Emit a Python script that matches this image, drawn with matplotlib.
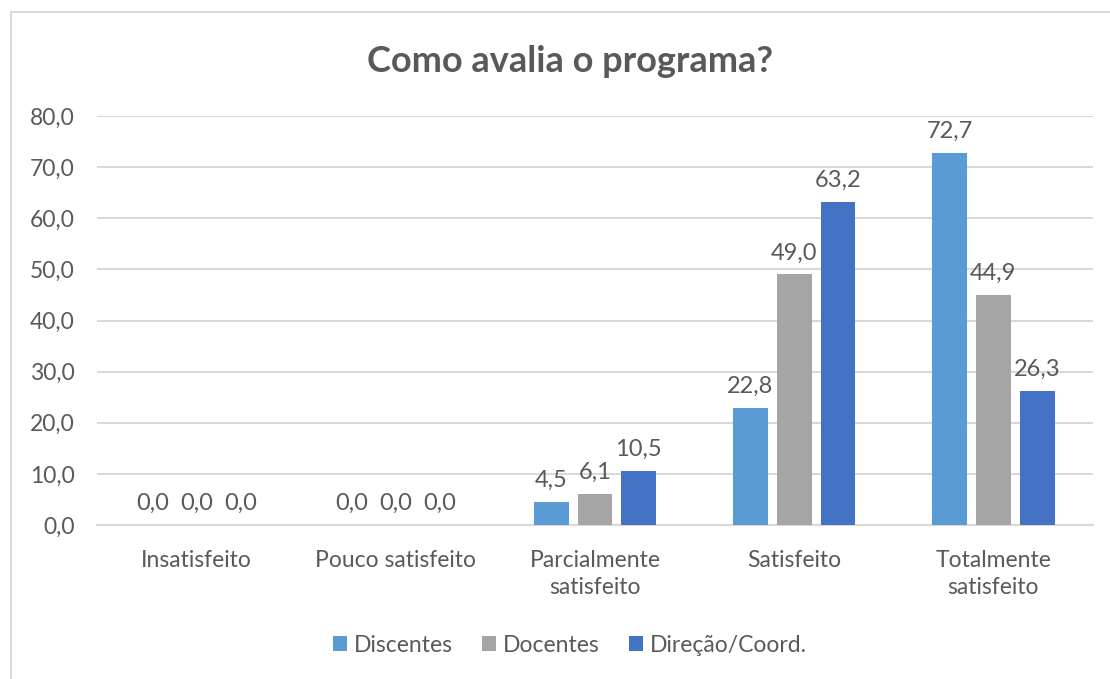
import matplotlib
matplotlib.use("Agg")
import matplotlib.pyplot as plt
import numpy as np
from matplotlib.patches import Rectangle

categories = ["Insatisfeito", "Pouco satisfeito", "Parcialmente\nsatisfeito", "Satisfeito", "Totalmente\nsatisfeito"]
series_names = ["Discentes", "Docentes", "Direção/Coord."]
discentes = [0.0, 0.0, 4.5, 22.8, 72.7]
docentes = [0.0, 0.0, 6.1, 49.0, 44.9]
direcao = [0.0, 0.0, 10.5, 63.2, 26.3]
colors = ["#5B9BD5", "#A5A5A5", "#4472C4"]
yticks = [0, 10, 20, 30, 40, 50, 60, 70, 80]

plt.rcParams['font.family'] = ['Lato', 'DejaVu Sans']
txt = "#595959"

fig = plt.figure(figsize=(11.1, 6.79), dpi=100)
fig.patches.append(Rectangle((11/1110, -0.1), 1.2, 1 - 12/679 + 0.1, transform=fig.transFigure,
                             fill=False, edgecolor="#D9D9D9", linewidth=1.5))
ax = fig.add_axes([97/1110, 1 - 525/679, (1093 - 97)/1110, (525 - 116)/679])

x = np.arange(len(categories))
offsets = [-0.22, 0.0, 0.22]
for vals, name, col, off in zip([discentes, docentes, direcao], series_names, colors, offsets):
    ax.bar(x + off, vals, width=0.175, color=col, label=name, zorder=3)
    for xi, v in zip(x + off, vals):
        ax.annotate(f"{v:.1f}".replace(".", ","), (xi, v), xytext=(0, 8), textcoords="offset points",
                    ha="center", va="bottom", fontsize=17, color=txt)

ax.set_xlim(-0.5, len(categories) - 0.5)
ax.set_ylim(0, 80)
ax.set_yticks(yticks)
ax.set_yticklabels([f"{t:.1f}".replace(".", ",") for t in yticks], fontsize=16.5, color=txt)
ax.set_xticks(x)
ax.set_xticklabels(categories, fontsize=16.5, color=txt, linespacing=1.35)
ax.tick_params(axis="both", length=0)
ax.tick_params(axis="y", pad=16)
ax.tick_params(axis="x", pad=18)
ax.grid(axis="y", color="#D9D9D9", linewidth=1.5, zorder=0)
for s in ["top", "right", "left"]:
    ax.spines[s].set_visible(False)
ax.spines["bottom"].set_color("#D9D9D9")
ax.spines["bottom"].set_linewidth(1.5)

fig.text(570/1110, 1 - 62/679, "Como avalia o programa?", ha="center", va="center",
         fontsize=26, color=txt, fontweight="bold")

leg = fig.legend(loc="center", bbox_to_anchor=(570/1110, 1 - 645/679), ncol=3, frameon=False,
                 fontsize=16.5, handlelength=0.6, handleheight=0.6, handletextpad=0.3, columnspacing=1.3)
for t in leg.get_texts():
    t.set_color(txt)

fig.savefig("out.png", dpi=100, facecolor="white")
